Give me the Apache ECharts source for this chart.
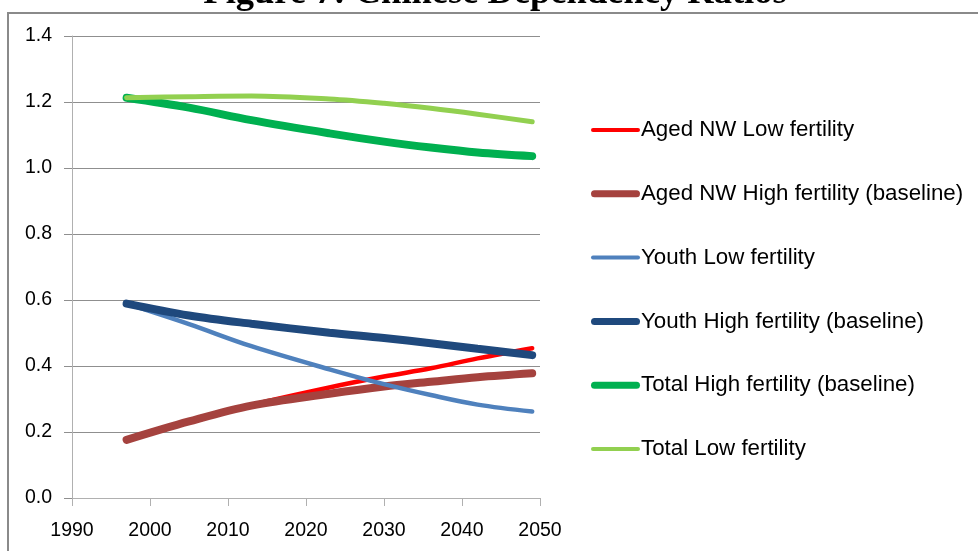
<!DOCTYPE html>
<html>
<head>
<meta charset="utf-8">
<script src="https://cdn.jsdelivr.net/npm/echarts@6/dist/echarts.min.js"></script>
<style>
  html, body { margin: 0; padding: 0; background: #fff; }
  #chart { width: 978px; height: 551px; }
</style>
</head>
<body>
<div id="chart"></div>
<script>
// values
var years = [1997, 2005, 2013, 2023, 2030, 2036, 2042, 2049];
var agedLow = [0.176, 0.232, 0.282, 0.335, 0.368, 0.393, 0.423, 0.454];
var agedHigh = [0.176, 0.232, 0.280, 0.316, 0.338, 0.352, 0.366, 0.378];
var youthLow = [0.589, 0.527, 0.460, 0.390, 0.345, 0.312, 0.283, 0.262];
var youthHigh = [0.589, 0.553, 0.528, 0.501, 0.485, 0.469, 0.452, 0.433];
var totalHigh = [1.213, 1.183, 1.145, 1.105, 1.080, 1.062, 1.047, 1.036];
var totalLow = [1.213, 1.216, 1.218, 1.209, 1.196, 1.181, 1.163, 1.140];

var seriesNames = [
  'Aged NW Low fertility',
  'Aged NW High fertility (baseline)',
  'Youth Low fertility',
  'Youth High fertility (baseline)',
  'Total High fertility (baseline)',
  'Total Low fertility'
];

// legend swatches: a rounded bar inside a 49x14 box (the extra moves fix the box)
var thinIcon = 'path://M0,0M49,14M2,5H47A2,2 0 0 1 47,9H2A2,2 0 0 1 2,5Z';
var thickIcon = 'path://M0,0M49,14M3.5,3.5H45.5A3.5,3.5 0 0 1 45.5,10.5H3.5A3.5,3.5 0 0 1 3.5,3.5Z';

function pairs(vals) {
  return years.map(function (y, i) { return [y, vals[i]]; });
}

function line(name, vals, color, width) {
  return {
    name: name,
    type: 'line',
    data: pairs(vals),
    smooth: 0.35,
    symbol: 'none',
    lineStyle: { color: color, width: width, cap: 'round' },
    itemStyle: { color: color },
    emphasis: { disabled: true }
  };
}

var chart = echarts.init(document.getElementById('chart'));

chart.setOption({
  animation: false,
  graphic: [
    {
      type: 'rect',
      shape: { x: 8, y: 13, width: 1000, height: 600 },
      style: { fill: 'none', stroke: '#8a8a8a', lineWidth: 2 },
      silent: true
    },
    {
      type: 'text',
      x: 495,
      y: 12,
      style: {
        text: 'Figure 7: Chinese Dependency Ratios',
        align: 'center',
        verticalAlign: 'bottom',
        font: 'bold 36.5px "Liberation Serif"',
        fill: '#000'
      },
      silent: true
    }
  ],
  grid: { left: 72, right: 438, top: 36, bottom: 53 },
  legend: {
    orient: 'vertical',
    left: 586,
    top: 114,
    itemGap: 41.8,
    itemWidth: 49,
    itemHeight: 14,
    data: [
      { name: seriesNames[0], icon: thinIcon },
      { name: seriesNames[1], icon: thickIcon },
      { name: seriesNames[2], icon: thinIcon },
      { name: seriesNames[3], icon: thickIcon },
      { name: seriesNames[4], icon: thickIcon },
      { name: seriesNames[5], icon: thinIcon }
    ],
    textStyle: {
      fontFamily: 'Liberation Sans', fontSize: 22.3, color: '#000', lineHeight: 20,
      padding: [0, 0, 0, -4]
    }
  },
  xAxis: {
    type: 'value',
    min: 1990,
    max: 2050,
    interval: 10,
    axisLine: { lineStyle: { color: '#b0b0b0', width: 1 } },
    axisTick: { show: true, length: 8, lineStyle: { color: '#b0b0b0' } },
    splitLine: { show: false },
    axisLabel: {
      fontFamily: 'Liberation Sans', fontSize: 19.5, color: '#000', margin: 23,
      formatter: function (v) { return String(v); }
    }
  },
  yAxis: {
    type: 'value',
    min: 0,
    max: 1.4,
    interval: 0.2,
    axisLine: { show: true, lineStyle: { color: '#b0b0b0', width: 1 } },
    axisTick: { show: true, length: 8, lineStyle: { color: '#8f8f8f' } },
    splitLine: { lineStyle: { color: '#8f8f8f', width: 1 } },
    axisLabel: {
      fontFamily: 'Liberation Sans', fontSize: 19.5, color: '#000', margin: 20,
      formatter: function (v) { return v.toFixed(1); }
    }
  },
  series: [
    line(seriesNames[0], agedLow, '#ff0000', 4.5),
    line(seriesNames[1], agedHigh, '#a5423e', 8),
    line(seriesNames[2], youthLow, '#4f81bd', 4.5),
    line(seriesNames[3], youthHigh, '#1f497d', 8),
    line(seriesNames[4], totalHigh, '#00b050', 8),
    line(seriesNames[5], totalLow, '#92d050', 5)
  ]
});
</script>
</body>
</html>
